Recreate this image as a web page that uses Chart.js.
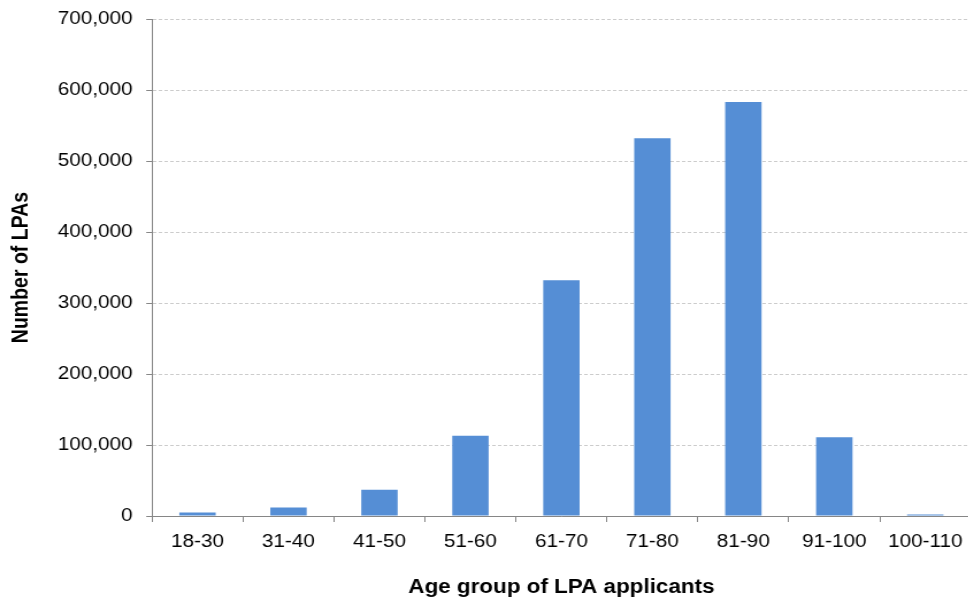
<!DOCTYPE html>
<html>
<head>
<meta charset="utf-8">
<script src="https://cdn.jsdelivr.net/npm/chart.js@4/dist/chart.umd.min.js"></script>
<style>
  html, body { margin: 0; padding: 0; background: #fff; overflow: hidden; }
  #frame { width: 968px; height: 605px; overflow: hidden; position: relative; }
  /* the chart is drawn on a narrower canvas and widened to the frame */
  #wrap { position: absolute; left: 0; top: 0; width: 846px; height: 605px;
          transform: scaleX(1.15); transform-origin: 0 0; }
  canvas { display: block; }
</style>
</head>
<body>
<div id="frame"><div id="wrap"><canvas id="c" width="846" height="605" style="width:846px;height:605px"></canvas></div></div>
<script>
// Lasting Power of Attorney applications by age group of the applicant
const ageGroups = ['18-30', '31-40', '41-50', '51-60', '61-70', '71-80', '81-90', '91-100', '100-110'];
const lpaCounts = [5000, 12000, 37000, 113000, 332000, 532000, 583000, 111000, 2000];
const yTicks = [0, 100000, 200000, 300000, 400000, 500000, 600000, 700000];

const xTitle = 'Age group of LPA applicants';
const yTitle = 'Number of LPAs';

const FONT = '"Liberation Sans", Arial, sans-serif';

new Chart(document.getElementById('c'), {
  type: 'bar',
  data: {
    labels: ageGroups,
    datasets: [{
      data: lpaCounts,
      backgroundColor: '#558ed5',
      borderWidth: 0,
      barPercentage: 0.4,
      categoryPercentage: 1.0
    }]
  },
  options: {
    responsive: false,
    animation: false,
    devicePixelRatio: 1,
    layout: { padding: { top: 19, right: 1, bottom: 0, left: 0 } },
    plugins: { legend: { display: false }, tooltip: { enabled: false } },
    scales: {
      x: {
        grid: {
          offset: true,
          drawOnChartArea: false,
          drawTicks: true,
          tickLength: 6,
          tickColor: '#868686',
          tickWidth: 1
        },
        border: { display: true, color: '#868686', width: 1 },
        ticks: {
          color: '#000',
          padding: 9,
          maxRotation: 0,
          autoSkip: false,
          font: { family: FONT, size: 18 }
        },
        title: {
          display: true,
          text: xTitle,
          color: '#000',
          font: { family: FONT, size: 19.5, weight: 'bold' },
          padding: { top: 0, bottom: 6 }
        },
        afterFit: (s) => { s.height = 89; }
      },
      y: {
        min: 0,
        max: 700000,
        afterBuildTicks: (s) => { s.ticks = yTicks.map(v => ({ value: v })); },
        grid: {
          color: '#cccccc',
          lineWidth: 1,
          drawTicks: true,
          tickLength: 5,
          tickColor: '#868686',
          tickBorderDash: []
        },
        border: { display: true, color: '#868686', width: 1, dash: [3, 2] },
        ticks: {
          color: '#000',
          padding: 12,
          font: { family: FONT, size: 18 },
          callback: (v) => v.toLocaleString('en-GB')
        },
        title: {
          display: true,
          text: yTitle,
          color: '#000',
          font: { family: FONT, size: 19.5, weight: 'bold' },
          padding: { top: 7, bottom: 0 }
        },
        afterFit: (s) => { s.width = 132.2; s.paddingTop = 0; s.paddingBottom = 0; }
      }
    }
  }
});
</script>
</body>
</html>
